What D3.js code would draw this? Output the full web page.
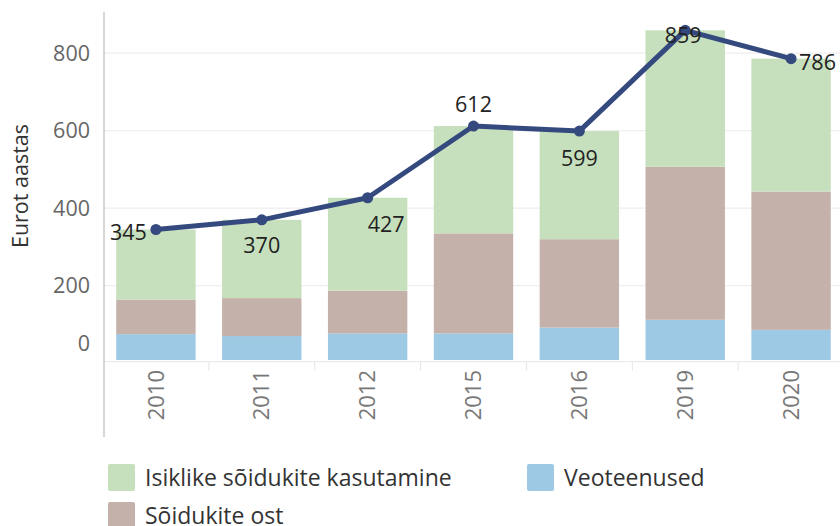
<!DOCTYPE html>
<html>
<head>
<meta charset="utf-8">
<script src="https://cdn.jsdelivr.net/npm/d3@7"></script>
<style>
  body { margin: 0; background: #fff; }
  text { font-family: "Open Sans", Lato, sans-serif; }
</style>
</head>
<body>
<div id="container"></div>
<script>
/* DATA */
const years = ["2010", "2011", "2012", "2015", "2016", "2019", "2020"];
const veoteenused = [75, 70, 77, 77, 92, 112, 86];
const soidukiteOst = [89, 98, 110, 258, 228, 395, 357];
const isiklike = [181, 202, 240, 277, 279, 352, 343];
const totals = [345, 370, 427, 612, 599, 859, 786];
const yTicks = [0, 200, 400, 600, 800];

const seriesNames = ["Veoteenused", "Sõidukite ost", "Isiklike sõidukite kasutamine"];
const seriesColors = ["#9dc9e5", "#c4b1a9", "#c6dfbc"];

/* CONSTANTS */
const width = 840;
const height = 526;
const plotLeft = 104;
const plotBottom = 360;
const font = "'Open Sans', sans-serif";

// where each total label sits relative to its point
const labelPlacement = [
  { anchor: "end", dx: -9, dy: 2 },
  { anchor: "middle", dx: 0, dy: 25 },
  { anchor: "start", dx: 0, dy: 26 },
  { anchor: "middle", dx: 0, dy: -23 },
  { anchor: "middle", dx: 0, dy: 26 },
  { anchor: "middle", dx: -2, dy: 4 },
  { anchor: "start", dx: 8, dy: 3 }
];

const svg = d3.select("#container").append("svg")
  .attr("width", width)
  .attr("height", height);

/* SCALES */
const xScale = d3.scaleBand()
  .domain(years)
  .range([103, 844])
  .paddingInner(0.25)
  .paddingOuter(0.125);

const yScale = d3.scaleLinear()
  .domain([0, 800])
  .range([363.2, 53.2]);

const table = years.map((y, i) => ({
  year: y,
  "Veoteenused": veoteenused[i],
  "Sõidukite ost": soidukiteOst[i],
  "Isiklike sõidukite kasutamine": isiklike[i]
}));
const stacked = d3.stack().keys(seriesNames)(table);

/* GRID */
svg.append("g")
  .selectAll("line")
  .data(yTicks.filter(d => d > 0))
  .join("line")
  .attr("x1", plotLeft)
  .attr("x2", width)
  .attr("y1", d => yScale(d))
  .attr("y2", d => yScale(d))
  .attr("stroke", "#eeeeee")
  .attr("stroke-width", 1.2);

/* BARS */
svg.append("clipPath").attr("id", "plotclip")
  .append("rect")
  .attr("x", plotLeft).attr("y", 0)
  .attr("width", width - plotLeft).attr("height", plotBottom);

const barG = svg.append("g").attr("clip-path", "url(#plotclip)");
barG.selectAll("g.series")
  .data(stacked)
  .join("g")
  .attr("class", "series")
  .attr("fill", (d, i) => seriesColors[i])
  .selectAll("rect")
  .data(d => d)
  .join("rect")
  .attr("x", d => xScale(d.data.year))
  .attr("width", xScale.bandwidth())
  .attr("y", d => yScale(d[1]))
  .attr("height", d => yScale(d[0]) - yScale(d[1]));

/* AXES */
const baseY = 361.7;
svg.append("line")
  .attr("x1", plotLeft).attr("x2", width)
  .attr("y1", baseY).attr("y2", baseY)
  .attr("stroke", "#e6e6e6");

// category separators under the baseline
svg.append("g")
  .selectAll("line")
  .data(years.slice(1))
  .join("line")
  .attr("x1", d => xScale(d) - xScale.step() * xScale.paddingInner() / 2)
  .attr("x2", d => xScale(d) - xScale.step() * xScale.paddingInner() / 2)
  .attr("y1", baseY)
  .attr("y2", baseY + 9)
  .attr("stroke", "#e6e6e6");

svg.append("line")
  .attr("x1", plotLeft).attr("x2", plotLeft)
  .attr("y1", 12).attr("y2", 437)
  .attr("stroke", "#c8c8c8")
  .attr("stroke-width", 1.5);

const yAxis = d3.axisLeft(yScale).tickValues(yTicks).tickSize(0).tickPadding(0);
const yAxisG = svg.append("g")
  .attr("transform", `translate(90,0)`)
  .call(yAxis);
yAxisG.select(".domain").remove();
yAxisG.selectAll("text")
  .attr("fill", "#666")
  .attr("font-size", 21.5)
  .style("font-family", font);
yAxisG.selectAll(".tick").filter(d => d === 0)
  .select("text").attr("dy", "-0.6em");

svg.append("text")
  .attr("transform", "translate(19,186) rotate(-90)")
  .attr("text-anchor", "middle")
  .attr("dominant-baseline", "central")
  .attr("font-size", 21.5)
  .attr("fill", "#333")
  .text("Eurot aastas");

const xAxis = d3.axisBottom(xScale).tickSize(0).tickPadding(0);
const xAxisG = svg.append("g")
  .attr("transform", `translate(0,370)`)
  .call(xAxis);
xAxisG.select(".domain").remove();
xAxisG.selectAll("text")
  .attr("transform", "rotate(-90)")
  .attr("text-anchor", "end")
  .attr("x", 0)
  .attr("y", 0)
  .attr("dy", "0.35em")
  .attr("fill", "#777")
  .attr("font-size", 22)
  .style("font-family", font);

/* LINE */
const cx = d => xScale(d) + xScale.bandwidth() / 2;
const line = d3.line()
  .x((d, i) => cx(years[i]))
  .y(d => yScale(d));

svg.append("path")
  .datum(totals)
  .attr("d", line)
  .attr("fill", "none")
  .attr("stroke", "#34497e")
  .attr("stroke-width", 5)
  .attr("stroke-linejoin", "round");

svg.append("g")
  .selectAll("circle")
  .data(totals)
  .join("circle")
  .attr("cx", (d, i) => cx(years[i]))
  .attr("cy", d => yScale(d))
  .attr("r", 5.5)
  .attr("fill", "#34497e");

svg.append("g")
  .selectAll("text")
  .data(totals)
  .join("text")
  .attr("x", (d, i) => cx(years[i]) + labelPlacement[i].dx)
  .attr("y", (d, i) => yScale(d) + labelPlacement[i].dy)
  .attr("text-anchor", (d, i) => labelPlacement[i].anchor)
  .attr("dominant-baseline", "central")
  .attr("font-size", 21.5)
  .attr("fill", "#222")
  .text(d => d);

/* LEGEND */
const legendItems = [
  { name: seriesNames[2], color: seriesColors[2], x: 108, y: 464 },
  { name: seriesNames[0], color: seriesColors[0], x: 527, y: 464 },
  { name: seriesNames[1], color: seriesColors[1], x: 108, y: 502 }
];
const legend = svg.append("g")
  .selectAll("g")
  .data(legendItems)
  .join("g")
  .attr("transform", d => `translate(${d.x},${d.y})`);
legend.append("rect")
  .attr("width", 27).attr("height", 27)
  .attr("rx", 2)
  .attr("fill", d => d.color);
legend.append("text")
  .attr("x", 37)
  .attr("y", 13)
  .attr("dominant-baseline", "central")
  .attr("font-size", 23)
  .attr("fill", "#333")
  .text(d => d.name);
</script>
</body>
</html>
